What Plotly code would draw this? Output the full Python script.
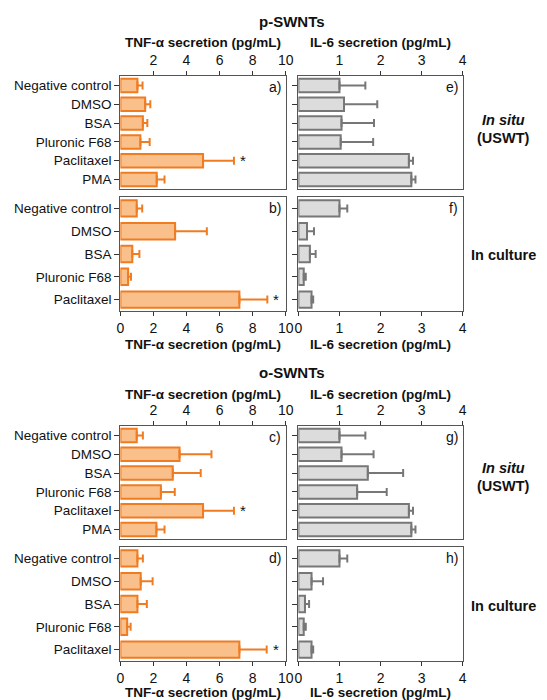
import plotly.graph_objects as go

# ---------------- data ----------------
cats_situ = ["Negative control", "DMSO", "BSA", "Pluronic F68", "Paclitaxel", "PMA"]
cats_cult = ["Negative control", "DMSO", "BSA", "Pluronic F68", "Paclitaxel"]

# p-SWNTs
tnf_a = [1.03, 1.50, 1.36, 1.21, 5.00, 2.20]
tnf_a_sd = [0.31, 0.31, 0.27, 0.56, 1.87, 0.47]
il6_e = [1.00, 1.11, 1.05, 1.03, 2.69, 2.75]
il6_e_sd = [0.63, 0.81, 0.79, 0.79, 0.10, 0.10]
tnf_b = [0.99, 3.31, 0.72, 0.47, 7.20]
tnf_b_sd = [0.33, 1.92, 0.43, 0.17, 1.69]
il6_f = [1.00, 0.21, 0.28, 0.13, 0.32]
il6_f_sd = [0.19, 0.17, 0.14, 0.05, 0.04]

# o-SWNTs
tnf_c = [0.99, 3.58, 3.17, 2.45, 5.00, 2.18]
tnf_c_sd = [0.37, 1.93, 1.69, 0.84, 1.87, 0.49]
il6_g = [1.00, 1.05, 1.69, 1.43, 2.69, 2.75]
il6_g_sd = [0.63, 0.78, 0.86, 0.72, 0.10, 0.10]
tnf_d = [1.03, 1.23, 1.03, 0.41, 7.20]
tnf_d_sd = [0.33, 0.72, 0.57, 0.21, 1.65]
il6_h = [1.00, 0.32, 0.16, 0.13, 0.32]
il6_h_sd = [0.19, 0.28, 0.10, 0.05, 0.04]

tnf_ticks_top = [2, 4, 6, 8, 10]
tnf_ticks_bot = [0, 2, 4, 6, 8, 10]
il6_ticks_top = [1, 2, 3, 4]
il6_ticks_bot = [0, 1, 2, 3, 4]

# ---------------- styling ----------------
W, H = 547, 700
FONT = "Arial, Liberation Sans, sans-serif"
ORANGE_FILL = "#f9c08c"
ORANGE_LINE = "#f07c22"
GRAY_FILL = "#dcdcdc"
GRAY_LINE = "#777777"
AXIS = "#555555"


def px(x):
    return x / W


def py(y):
    return 1 - y / H


xd_tnf = [px(119), px(288)]
xd_il6 = [px(301), px(469)]
yd = {
    "a": [py(189), py(76)],
    "b": [py(311), py(197)],
    "c": [py(539), py(426)],
    "d": [py(661), py(547)],
}

panels = [
    # letter, row, kind, cats, vals, sd, tick side
    ("a", "a", "tnf", cats_situ, tnf_a, tnf_a_sd, "top"),
    ("e", "a", "il6", cats_situ, il6_e, il6_e_sd, "top"),
    ("b", "b", "tnf", cats_cult, tnf_b, tnf_b_sd, "bottom"),
    ("f", "b", "il6", cats_cult, il6_f, il6_f_sd, "bottom"),
    ("c", "c", "tnf", cats_situ, tnf_c, tnf_c_sd, "top"),
    ("g", "c", "il6", cats_situ, il6_g, il6_g_sd, "top"),
    ("d", "d", "tnf", cats_cult, tnf_d, tnf_d_sd, "bottom"),
    ("h", "d", "il6", cats_cult, il6_h, il6_h_sd, "bottom"),
]

fig = go.Figure()
layout = {}
annotations = []

for i, (letter, row, kind, cats, vals, sd, side) in enumerate(panels, start=1):
    xa = "x" if i == 1 else f"x{i}"
    ya = "y" if i == 1 else f"y{i}"
    xkey = "xaxis" if i == 1 else f"xaxis{i}"
    ykey = "yaxis" if i == 1 else f"yaxis{i}"
    is_tnf = kind == "tnf"
    fig.add_trace(go.Bar(
        x=vals, y=cats, orientation="h",
        xaxis=xa, yaxis=ya,
        marker=dict(color=ORANGE_FILL if is_tnf else GRAY_FILL,
                    line=dict(color=ORANGE_LINE if is_tnf else GRAY_LINE, width=2)),
        error_x=dict(type="data", array=sd, arrayminus=[0] * len(sd), symmetric=False,
                     color=ORANGE_LINE if is_tnf else GRAY_LINE, thickness=2, width=4),
        showlegend=False,
    ))
    if is_tnf:
        tv = tnf_ticks_top if side == "top" else tnf_ticks_bot
        rng = [0, 10]
    else:
        tv = il6_ticks_top if side == "top" else il6_ticks_bot
        rng = [0, 4]
    layout[xkey] = dict(
        domain=xd_tnf if is_tnf else xd_il6, anchor=ya, side=side,
        range=rng, tickvals=tv, ticktext=[str(t) for t in tv],
        ticks="outside", ticklen=4, tickwidth=1, tickcolor="#333",
        showline=True, linecolor=AXIS, linewidth=1.2, mirror=True,
        showgrid=False, zeroline=False,
        tickfont=dict(family=FONT, size=14, color="#111"),
        fixedrange=True,
    )
    layout[ykey] = dict(
        domain=yd[row], anchor=xa, type="category",
        categoryorder="array", categoryarray=cats, autorange="reversed",
        ticks="outside", ticklen=5, tickwidth=1, tickcolor="#333",
        showticklabels=is_tnf,
        showline=True, linecolor=AXIS, linewidth=1.2, mirror=True,
        showgrid=False, zeroline=False,
        tickfont=dict(family=FONT, size=13.5, color="#111"),
        fixedrange=True,
    )
    # panel letter
    annotations.append(dict(
        text=f"{letter})", xref=f"{xa} domain", yref=f"{ya} domain",
        x=0.985, y=0.995, xanchor="right", yanchor="top", showarrow=False,
        font=dict(family=FONT, size=14, color="#111"),
    ))
    # significance star on Paclitaxel
    if is_tnf:
        k = cats.index("Paclitaxel")
        annotations.append(dict(
            text="*", xref=xa, yref=ya, x=vals[k] + sd[k] + 0.55, y=cats[k],
            xanchor="center", yanchor="middle", showarrow=False,
            font=dict(family=FONT, size=15, color="#111"),
        ))

# group titles and axis titles
def txt(s, x, y, size=14, bold=True, anchor="center"):
    annotations.append(dict(
        text=f"<b>{s}</b>" if bold else s, xref="paper", yref="paper",
        x=px(x), y=py(y), xanchor=anchor, yanchor="middle", showarrow=False,
        font=dict(family=FONT, size=size, color="#111"),
    ))

txt("p-SWNTs", 294, 21, size=15)
txt("o-SWNTs", 294, 373, size=15)
for ytitle in (42, 344, 394, 692):
    txt("TNF-α secretion (pg/mL)", 203.5, ytitle, size=13.5)
    txt("IL-6 secretion (pg/mL)", 385, ytitle, size=13.5)

for y0 in (120, 468):
    txt("<i>In situ</i>", 511, y0, size=14.5)
    txt("(USWT)", 511, y0 + 18, size=14.5)
txt("In culture", 511, 255, size=14.5)
txt("In culture", 511, 606, size=14.5)

fig.update_layout(
    width=W, height=H,
    margin=dict(l=0, r=0, t=0, b=0),
    paper_bgcolor="white", plot_bgcolor="white",
    bargap=0.28,
    annotations=annotations,
    **layout,
)

fig.write_html("out.html", config={"displayModeBar": False})
